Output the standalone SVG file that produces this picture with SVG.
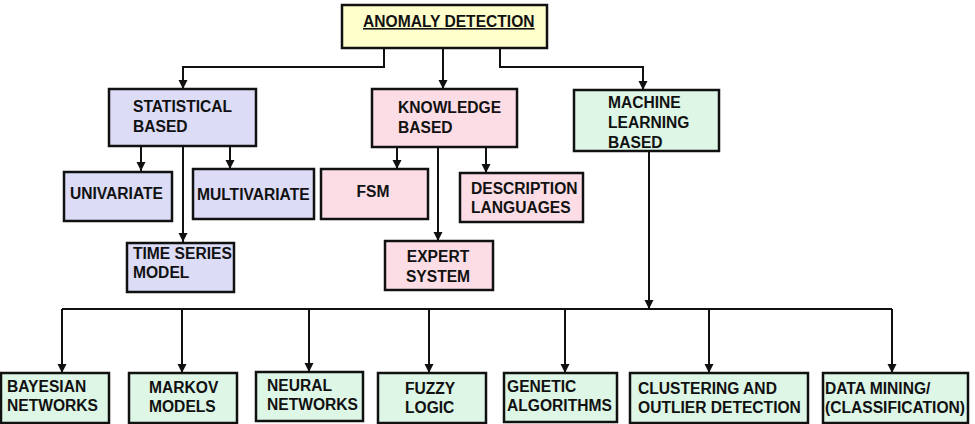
<svg xmlns="http://www.w3.org/2000/svg" width="975" height="424" viewBox="0 0 975 424">
  <defs>
    <marker id="arrow" markerUnits="userSpaceOnUse" markerWidth="10" markerHeight="10" refX="9" refY="5" orient="auto">
      <path d="M0,0.5 L9,5 L0,9.5 z" fill="#111"/>
    </marker>
    <style>
      .box { stroke: #111; stroke-width: 2.5; }
      .root { fill: #ffffcc; }
      .stat { fill: #dcdcf7; }
      .know { fill: #fcdde6; }
      .ml { fill: #ddf6e6; }
      .lbl { font-family: "Liberation Sans", Arial, sans-serif; font-weight: bold; font-size: 15.6px; fill: #111; }
      .mid { text-anchor: middle; }
      .conn { fill: none; stroke: #111; stroke-width: 2; }
      .arr { marker-end: url(#arrow); }
    </style>
  </defs>

  <rect width="975" height="424" fill="#ffffff"/>

  <!-- connectors -->
  <g id="connectors">
    <path class="conn arr" d="M384,48 V67 H183 V89"/>
    <path class="conn arr" d="M443,48 V89"/>
    <path class="conn arr" d="M500,48 V67 H643 V90"/>
    <!-- statistical branch -->
    <path class="conn arr" d="M141,146 V171"/>
    <path class="conn arr" d="M183,146 V242"/>
    <path class="conn arr" d="M230,146 V169"/>
    <!-- knowledge branch -->
    <path class="conn arr" d="M397,147 V169"/>
    <path class="conn arr" d="M438,147 V241"/>
    <path class="conn arr" d="M486,147 V173"/>
    <!-- machine learning branch -->
    <path class="conn arr" d="M649,151 V309"/>
    <path class="conn" d="M62,309 H892"/>
    <path class="conn arr" d="M62,309 V373"/>
    <path class="conn arr" d="M182,309 V373"/>
    <path class="conn arr" d="M309,309 V372"/>
    <path class="conn arr" d="M429,309 V373"/>
    <path class="conn arr" d="M565,309 V373"/>
    <path class="conn arr" d="M709,309 V373"/>
    <path class="conn arr" d="M892,309 V373"/>
  </g>

  <g id="anomaly-detection">
    <rect class="box root" x="342" y="5" width="205" height="43"/>
    <text class="lbl" x="363" y="27" text-decoration="underline">ANOMALY DETECTION</text>
  </g>

  <g id="statistical-based">
    <rect class="box stat" x="109" y="89" width="147" height="57"/>
    <text class="lbl" x="133" y="112">STATISTICAL</text>
    <text class="lbl" x="133" y="132">BASED</text>
  </g>

  <g id="knowledge-based">
    <rect class="box know" x="372" y="89" width="145" height="58"/>
    <text class="lbl" x="398" y="113">KNOWLEDGE</text>
    <text class="lbl" x="398" y="133">BASED</text>
  </g>

  <g id="machine-learning-based">
    <rect class="box ml" x="574" y="90" width="145" height="61"/>
    <text class="lbl" x="608" y="108">MACHINE</text>
    <text class="lbl" x="608" y="128">LEARNING</text>
    <text class="lbl" x="608" y="148">BASED</text>
  </g>

  <g id="univariate">
    <rect class="box stat" x="64" y="172" width="108" height="49"/>
    <text class="lbl" x="70" y="199">UNIVARIATE</text>
  </g>

  <g id="multivariate">
    <rect class="box stat" x="193" y="169" width="121" height="50"/>
    <text class="lbl" x="197" y="200">MULTIVARIATE</text>
  </g>

  <g id="time-series-model">
    <rect class="box stat" x="127" y="243" width="107" height="49"/>
    <text class="lbl" x="133" y="259">TIME SERIES</text>
    <text class="lbl" x="133" y="278">MODEL</text>
  </g>

  <g id="fsm">
    <rect class="box know" x="321" y="169" width="107" height="50"/>
    <text class="lbl mid" x="373" y="197">FSM</text>
  </g>

  <g id="description-languages">
    <rect class="box know" x="460" y="173" width="123" height="49"/>
    <text class="lbl" x="471" y="194">DESCRIPTION</text>
    <text class="lbl" x="471" y="213">LANGUAGES</text>
  </g>

  <g id="expert-system">
    <rect class="box know" x="385" y="241" width="108" height="49"/>
    <text class="lbl mid" x="438" y="262">EXPERT</text>
    <text class="lbl mid" x="438" y="282">SYSTEM</text>
  </g>

  <g id="bayesian-networks">
    <rect class="box ml" x="1" y="373" width="108" height="50"/>
    <text class="lbl" x="7" y="392">BAYESIAN</text>
    <text class="lbl" x="7" y="411">NETWORKS</text>
  </g>

  <g id="markov-models">
    <rect class="box ml" x="129" y="373" width="108" height="50"/>
    <text class="lbl" x="149" y="393">MARKOV</text>
    <text class="lbl" x="149" y="412">MODELS</text>
  </g>

  <g id="neural-networks">
    <rect class="box ml" x="256" y="372" width="107" height="49"/>
    <text class="lbl" x="267" y="391">NEURAL</text>
    <text class="lbl" x="267" y="410">NETWORKS</text>
  </g>

  <g id="fuzzy-logic">
    <rect class="box ml" x="378" y="373" width="108" height="50"/>
    <text class="lbl" x="405" y="394">FUZZY</text>
    <text class="lbl" x="405" y="413">LOGIC</text>
  </g>

  <g id="genetic-algorithms">
    <rect class="box ml" x="504" y="373" width="113" height="49"/>
    <text class="lbl" x="507" y="392">GENETIC</text>
    <text class="lbl" x="507" y="411">ALGORITHMS</text>
  </g>

  <g id="clustering-outlier-detection">
    <rect class="box ml" x="630" y="373" width="178" height="50"/>
    <text class="lbl" x="638" y="394">CLUSTERING AND</text>
    <text class="lbl" x="638" y="413">OUTLIER DETECTION</text>
  </g>

  <g id="data-mining-classification">
    <rect class="box ml" x="823" y="373" width="145" height="50"/>
    <text class="lbl" x="825" y="394">DATA MINING/</text>
    <text class="lbl" x="825" y="413">(CLASSIFICATION)</text>
  </g>
</svg>
